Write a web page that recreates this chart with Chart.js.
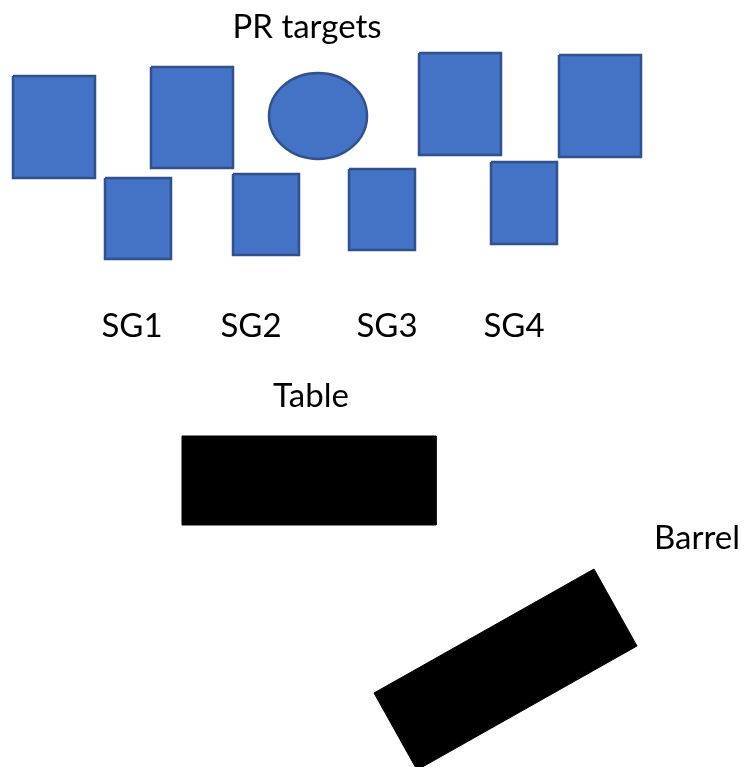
<!DOCTYPE html>
<html>
<head>
<meta charset="utf-8">
<script src="https://cdn.jsdelivr.net/npm/chart.js@4.4.1/dist/chart.umd.min.js"></script>
<style>
  html, body { margin: 0; padding: 0; background: #ffffff; }
  canvas { display: block; }
</style>
</head>
<body>
<canvas id="layout" width="744" height="767"></canvas>
<script>
// PR targets (rectangles): left, right, top, bottom
var targetLeft   = [13, 105, 151, 233, 349, 419, 491, 559];
var targetRight  = [95, 171, 233, 299, 415, 501, 557, 641];
var targetTop    = [76, 178, 67, 174, 169, 53, 162, 55];
var targetBottom = [178, 259, 168, 255, 250, 155, 244, 157];

// round target
var roundX = [318];
var roundY = [116];
var roundRx = [49];
var roundRy = [43];

// table
var tableX = [182, 436, 436, 182, 182];
var tableY = [436, 436, 525, 525, 436];

// barrel (tilted)
var barrelX = [374, 594, 637, 417, 374];
var barrelY = [693, 569, 646, 770, 693];

// labels
var labelText = ["PR targets", "SG1", "SG2", "SG3", "SG4", "Table", "Barrel"];
var labelX    = [307, 132, 251, 387, 514, 311, 697];
var labelY    = [38, 337, 337, 337, 337, 407, 549];

function pts(xs, ys){
    var out = [];
    for(var i=0;i<xs.length;i++){
        out.push({x: xs[i], y: ys[i]});
    }
    return out;
}

var datasets = [];
for(var i=0;i<targetLeft.length;i++){
    datasets.push({
        data: pts([targetLeft[i], targetRight[i], targetRight[i], targetLeft[i], targetLeft[i]],
                  [targetTop[i], targetTop[i], targetBottom[i], targetBottom[i], targetTop[i]]),
        showLine: true,
        fill: 'shape',
        backgroundColor: '#4472C4',
        borderColor: '#2F528F',
        borderWidth: 2.5,
        borderJoinStyle: 'miter',
        pointRadius: 0,
        tension: 0
    });
}
datasets.push({
    data: pts(tableX, tableY),
    showLine: true, fill: 'shape',
    backgroundColor: '#000000', borderColor: '#000000', borderWidth: 1,
    borderJoinStyle: 'miter', pointRadius: 0, tension: 0
});
datasets.push({
    data: pts(barrelX, barrelY),
    showLine: true, fill: 'shape',
    backgroundColor: '#000000', borderColor: '#000000', borderWidth: 1,
    borderJoinStyle: 'miter', pointRadius: 0, tension: 0
});

// ellipse + texts drawn with the chart scales
var extras = {
    id: 'extras',
    afterDatasetsDraw: function(chart){
        var ctx = chart.ctx;
        var sx = chart.scales.x, sy = chart.scales.y;
        ctx.save();
        for(var i=0;i<roundX.length;i++){
            var cx = sx.getPixelForValue(roundX[i]);
            var cy = sy.getPixelForValue(roundY[i]);
            var rx = Math.abs(sx.getPixelForValue(roundX[i] + roundRx[i]) - cx);
            var ry = Math.abs(sy.getPixelForValue(roundY[i] + roundRy[i]) - cy);
            ctx.beginPath();
            ctx.ellipse(cx, cy, rx, ry, 0, 0, Math.PI*2);
            ctx.fillStyle = '#4472C4';
            ctx.fill();
            ctx.lineWidth = 2.5;
            ctx.strokeStyle = '#2F528F';
            ctx.stroke();
        }
        ctx.fillStyle = '#000000';
        ctx.font = '33px Lato';
        ctx.textAlign = 'center';
        ctx.textBaseline = 'alphabetic';
        for(var j=0;j<labelText.length;j++){
            ctx.fillText(labelText[j], sx.getPixelForValue(labelX[j]), sy.getPixelForValue(labelY[j]));
        }
        ctx.restore();
    }
};

var chart = new Chart(document.getElementById('layout').getContext('2d'), {
    type: 'scatter',
    data: { datasets: datasets },
    options: {
        responsive: false,
        animation: false,
        layout: { padding: 0 },
        plugins: { legend: { display: false }, tooltip: { enabled: false } },
        scales: {
            x: { type: 'linear', min: 0, max: 744, display: false },
            y: { type: 'linear', min: 0, max: 767, reverse: true, display: false }
        }
    },
    plugins: [extras]
});
</script>
</body>
</html>
